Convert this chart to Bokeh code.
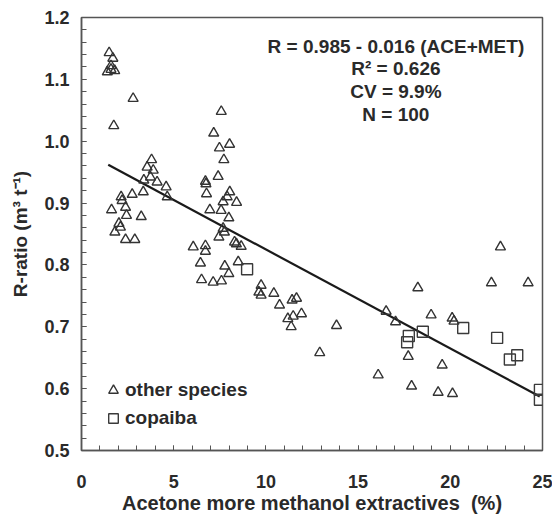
from bokeh.plotting import figure
from bokeh.models import (FixedTicker, PrintfTickFormatter, Legend,
                          LegendItem, Label, Range1d)
from bokeh.embed import file_html
from bokeh.resources import INLINE

# ---- data ----
other_x = [1.5, 1.7, 1.4, 1.6, 1.8, 1.6, 2.8, 7.58, 1.75, 7.17, 7.48, 8.03, 7.72,
           3.8, 3.56, 3.89, 3.74, 4.1, 3.38, 4.59, 4.65, 6.72, 6.75, 7.41, 6.78,
           8.04, 7.9, 7.68, 8.41, 7.57, 6.96, 7.99, 7.68, 7.75, 7.45, 2.15, 2.2,
           2.75, 3.35, 1.63, 2.39, 2.44, 3.24, 2.03, 2.11, 1.81, 2.39, 2.89, 8.3,
           8.4, 8.66, 6.06, 6.72, 6.72, 6.45, 7.77, 8.5, 7.99, 6.51, 7.14, 7.59,
           9.74, 9.62, 9.74, 10.43, 10.74, 11.42, 11.66, 11.93, 11.19, 11.48,
           11.37, 12.92, 13.83, 16.52, 17.03, 18.24, 18.96, 20.1, 20.2, 22.72,
           22.23, 24.22, 16.09, 17.72, 19.56, 17.9, 19.34, 20.12]
other_y = [1.143, 1.134, 1.112, 1.116, 1.114, 1.122, 1.069, 1.048, 1.025, 1.013,
           0.989, 0.995, 0.970, 0.970, 0.958, 0.953, 0.942, 0.934, 0.937, 0.926,
           0.910, 0.935, 0.931, 0.943, 0.915, 0.918, 0.910, 0.902, 0.901, 0.888,
           0.889, 0.876, 0.859, 0.853, 0.845, 0.910, 0.904, 0.914, 0.918, 0.889,
           0.893, 0.880, 0.878, 0.867, 0.861, 0.853, 0.841, 0.841, 0.837, 0.834,
           0.830, 0.829, 0.831, 0.822, 0.803, 0.798, 0.805, 0.786, 0.776, 0.772,
           0.774, 0.767, 0.756, 0.751, 0.754, 0.735, 0.743, 0.746, 0.721, 0.713,
           0.717, 0.700, 0.658, 0.702, 0.725, 0.708, 0.763, 0.719, 0.714, 0.709,
           0.829, 0.771, 0.771, 0.622, 0.652, 0.638, 0.604, 0.594, 0.592]
copaiba_x = [8.98, 17.75, 17.66, 18.51, 20.7, 22.54, 23.23, 23.63, 24.86, 24.86]
copaiba_y = [0.793, 0.685, 0.675, 0.692, 0.698, 0.682, 0.647, 0.654, 0.598, 0.582]

fit_intercept = 0.985
fit_slope = -0.016
fit_x = [1.45, 24.85]
fit_y = [fit_intercept + fit_slope * v for v in fit_x]

stats_lines = ["R = 0.985 - 0.016 (ACE+MET)", "R\u00b2 = 0.626", "CV = 9.9%", "N = 100"]
stats_y = [1.153, 1.117, 1.080, 1.043]
x_title = "Acetone more methanol extractives\u00a0\u00a0(%)"
y_title = "R-ratio (m\u00b3 t\u207b\u00b9)"
x_ticks = [0, 5, 10, 15, 20, 25]
x_minor = list(range(0, 26))
y_ticks = [0.5, 0.6, 0.7, 0.8, 0.9, 1.0, 1.1, 1.2]
y_minor = [round(0.5 + 0.02 * i, 2) for i in range(36)]

FONT = "Liberation Sans"
TXT = "#2a2a2a"
AX = "#555555"

p = figure(width=552, height=516, x_range=Range1d(0, 25), y_range=Range1d(0.5, 1.2),
           output_backend="svg", toolbar_location=None,
           min_border_left=81, min_border_right=10, min_border_top=17, min_border_bottom=66)
p.xgrid.visible = False
p.ygrid.visible = False
p.outline_line_color = AX
p.outline_line_width = 1.5

p.xaxis.ticker = FixedTicker(ticks=x_ticks, minor_ticks=x_minor)
p.yaxis.ticker = FixedTicker(ticks=y_ticks, minor_ticks=y_minor)
p.yaxis.formatter = PrintfTickFormatter(format="%.1f")

for ax in (p.xaxis[0], p.yaxis[0]):
    ax.axis_line_color = AX
    ax.axis_line_width = 1.5
    ax.major_tick_line_color = AX
    ax.minor_tick_line_color = AX
    ax.major_tick_in = 5
    ax.major_tick_out = 0
    ax.minor_tick_in = 5
    ax.minor_tick_out = 0
    ax.major_label_text_font = FONT
    ax.major_label_text_font_style = "bold"
    ax.major_label_text_font_size = "18px"
    ax.major_label_text_color = TXT
    ax.axis_label_text_font = FONT
    ax.axis_label_text_font_style = "bold"
    ax.axis_label_text_color = TXT

p.xaxis.axis_label = x_title
p.xaxis.axis_label_text_font_size = "20px"
p.yaxis.axis_label = y_title
p.yaxis.axis_label_text_font_size = "19px"
p.xaxis.major_label_standoff = 24
p.xaxis.axis_label_standoff = 1
p.yaxis.major_label_standoff = 12
p.yaxis.axis_label_standoff = 10

p.line(fit_x, fit_y, line_color="#1a1a1a", line_width=2.2)

r_other = p.scatter(other_x, other_y, marker="triangle", size=10, fill_color=None,
                    line_color="#333333", line_width=1.4)
r_cop = p.scatter(copaiba_x, copaiba_y, marker="square", size=11, fill_color=None,
                  line_color="#3a3a3a", line_width=1.4)

legend = Legend(items=[LegendItem(label="other species", renderers=[r_other]),
                       LegendItem(label="copaiba", renderers=[r_cop])],
                location=(20, 18), glyph_width=24, glyph_height=28, label_height=28,
                spacing=0, padding=0, margin=0, label_standoff=0,
                background_fill_alpha=0, border_line_alpha=0,
                label_text_font=FONT, label_text_font_style="bold",
                label_text_font_size="19px", label_text_color=TXT)
p.add_layout(legend)

for t, yv in zip(stats_lines, stats_y):
    p.add_layout(Label(x=17.05, y=yv, text=t, text_align="center", text_baseline="middle",
                       text_font=FONT, text_font_style="bold", text_font_size="19px",
                       text_color=TXT))

open("out.html", "w").write(file_html(p, INLINE))
